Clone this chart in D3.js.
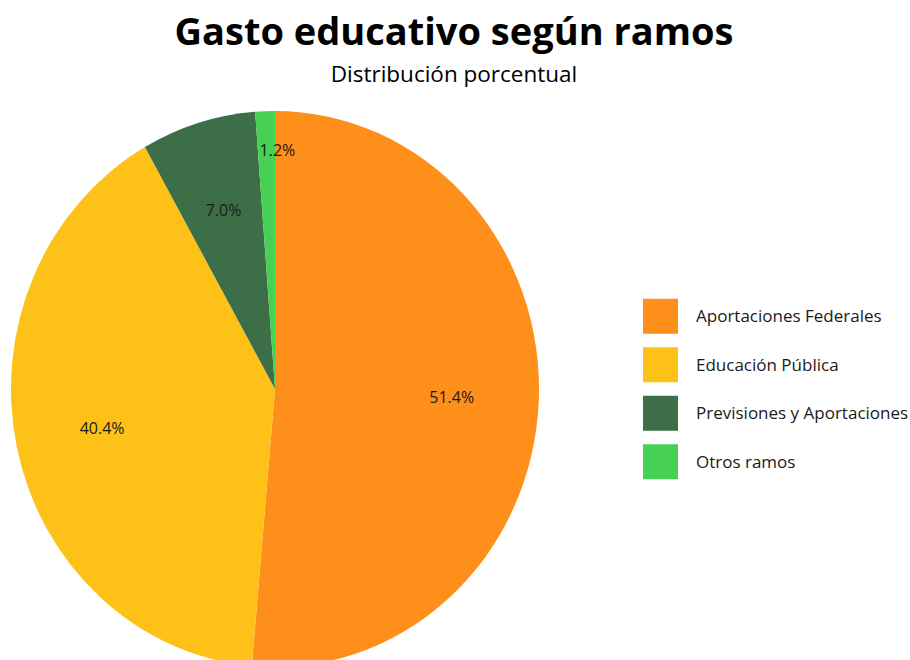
<!DOCTYPE html>
<html><head><meta charset="utf-8">
<script src="https://cdn.jsdelivr.net/npm/d3@7"></script>
<style>body{margin:0;background:#fff}svg{display:block}</style>
</head><body>
<svg id="chart" width="910" height="660"></svg>
<script>
const categories = ["Aportaciones Federales","Educación Pública","Previsiones y Aportaciones","Otros ramos"];
const values = [51.4, 40.4, 7.0, 1.2];
const colors = ["#FF8F1B","#FEC118","#3C6E47","#46D154"];
const titleText = "Gasto educativo según ramos";
const subtitleText = "Distribución porcentual";

const W = 910, H = 660;
const cx = 275, cy = 389, rx = 264, ry = 278;
const FONT = "'Open Sans', sans-serif";

const svg = d3.select("#chart");
svg.append("rect").attr("width",W).attr("height",H).attr("fill","#fff");

const data = categories.map((c,i)=>({cat:c, value:values[i], color:colors[i]}));
const pie = d3.pie().value(d=>d.value).sort(null);
const arcs = pie(data);
const R = 100;
const arc = d3.arc().innerRadius(0).outerRadius(R);

const g = svg.append("g").attr("transform",`translate(${cx},${cy}) scale(${rx/R},${ry/R})`);
g.selectAll("path").data(arcs).enter().append("path")
  .attr("d",arc).attr("fill",d=>d.data.color);

// labels
const lab = svg.append("g");
arcs.forEach(a=>{
  const mid = (a.startAngle+a.endAngle)/2;
  const f = a.data.value < 2 ? 0.86 : 0.67;
  const nudge = a.data.value < 2 ? 11 : 0;
  const x = cx + Math.sin(mid)*rx*f + nudge;
  const y = cy - Math.cos(mid)*ry*f;
  lab.append("text").attr("x",x).attr("y",y).attr("dy","0.35em")
    .attr("text-anchor","middle").attr("font-family",FONT).attr("font-size",16)
    .attr("fill","#1a1a1a").text(d3.format(".1f")(a.data.value)+"%");
});

// title
svg.append("text").attr("x",454).attr("y",45).attr("text-anchor","middle")
  .attr("font-family",FONT).attr("font-weight","bold").attr("font-size",38)
  .attr("fill","#000").text(titleText);
svg.append("text").attr("x",454).attr("y",82).attr("text-anchor","middle")
  .attr("font-family",FONT).attr("font-size",22.5)
  .attr("fill","#000").text(subtitleText);

// legend
const yL = d3.scaleBand().domain(categories).range([292,486]);
const leg = svg.append("g");
const items = leg.selectAll("g").data(data).enter().append("g")
  .attr("transform",d=>`translate(643,${yL(d.cat)+yL.bandwidth()/2})`);
items.append("rect").attr("x",0).attr("y",-17.5).attr("width",35).attr("height",35)
  .attr("fill",d=>d.color);
items.append("text").attr("x",53).attr("y",0).attr("dy","0.35em")
  .attr("font-family",FONT).attr("font-size",17).attr("fill","#1a1a1a").text(d=>d.cat);
</script>
</body></html>
